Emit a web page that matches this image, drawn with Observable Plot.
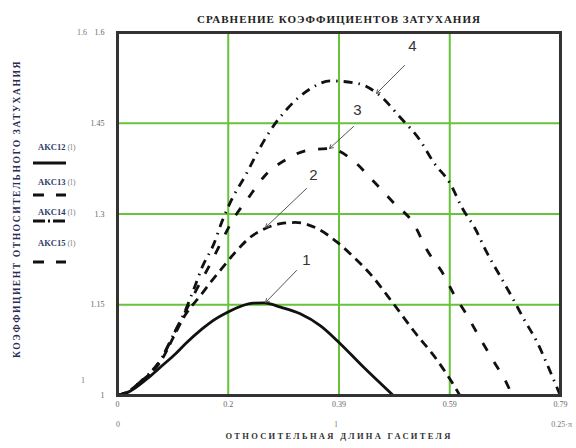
<!DOCTYPE html>
<html>
<head>
<meta charset="utf-8">
<script src="https://cdn.jsdelivr.net/npm/d3@7"></script>
<script src="https://cdn.jsdelivr.net/npm/@observablehq/plot@0.6"></script>
<style>
  html, body { margin: 0; padding: 0; background: #fff; }
  #chart { width: 576px; height: 448px; }
</style>
</head>
<body>
<div id="chart"></div>
<script>
// ---- data ----
const titleText = "СРАВНЕНИЕ КОЭФФИЦИЕНТОВ ЗАТУХАНИЯ";
const xTitle = "ОТНОСИТЕЛЬНАЯ ДЛИНА ГАСИТЕЛЯ";
const yTitle = "КОЭФФИЦИЕНТ ОТНОСИТЕЛЬНОГО ЗАТУХАНИЯ";
const seriesNames = ["AKC12", "AKC13", "AKC14", "AKC15"];
const xTicks = [0, Math.PI / 16, Math.PI / 8, 3 * Math.PI / 16, Math.PI / 4];
const xTickLabels = ["0", "0.2", "0.39", "0.59", "0.79"];
const yTicks = [1, 1.15, 1.3, 1.45, 1.6];
const yTickLabels = ["1", "1.15", "1.3", "1.45", "1.6"];

const c1x = [0, 0.02, 0.0555, 0.08, 0.103, 0.12, 0.15, 0.165, 0.196, 0.22, 0.241, 0.26, 0.289, 0.324, 0.36, 0.389, 0.436, 0.489];
const c1y = [1, 1.006, 1.03, 1.05, 1.069, 1.085, 1.11, 1.121, 1.138, 1.148, 1.1526, 1.153, 1.146, 1.135, 1.115, 1.091, 1.047, 1.0];

const c2x = [0, 0.02, 0.04, 0.079, 0.1, 0.12, 0.147, 0.165, 0.185, 0.209, 0.236, 0.262, 0.289, 0.315, 0.354, 0.39, 0.413, 0.448, 0.489, 0.525, 0.567, 0.602, 0.607];
const c2y = [1, 1.007, 1.022, 1.06, 1.098, 1.133, 1.165, 1.187, 1.21, 1.237, 1.262, 1.276, 1.284, 1.286, 1.276, 1.253, 1.234, 1.201, 1.152, 1.107, 1.058, 1.008, 1.0];

const c3x = [0, 0.02, 0.04, 0.079, 0.1, 0.12, 0.14, 0.162, 0.1825, 0.203, 0.233, 0.262, 0.301, 0.336, 0.377, 0.418, 0.453, 0.489, 0.525, 0.549, 0.578, 0.596, 0.62, 0.643, 0.666, 0.69, 0.70];
const c3y = [1, 1.007, 1.022, 1.063, 1.102, 1.138, 1.175, 1.213, 1.251, 1.288, 1.328, 1.364, 1.391, 1.405, 1.408, 1.388, 1.355, 1.319, 1.284, 1.24, 1.2, 1.168, 1.132, 1.094, 1.058, 1.02, 1.0];

const c4x = [0, 0.02, 0.04, 0.079, 0.1, 0.12, 0.135, 0.15, 0.171, 0.185, 0.203, 0.227, 0.247, 0.271, 0.301, 0.342, 0.377, 0.425, 0.461, 0.501, 0.537, 0.56, 0.59, 0.611, 0.634, 0.655, 0.678, 0.701, 0.72, 0.744, 0.761, 0.785];
const c4y = [1, 1.007, 1.022, 1.063, 1.102, 1.14, 1.175, 1.212, 1.251, 1.287, 1.325, 1.364, 1.4, 1.438, 1.474, 1.507, 1.52, 1.516, 1.499, 1.46, 1.421, 1.386, 1.35, 1.31, 1.276, 1.236, 1.198, 1.16, 1.127, 1.088, 1.053, 1.0];

// curve labels: text position and leader (from label side to curve point)
const labelText = ["1", "2", "3", "4"];
const labelX = [0.3351, 0.3475, 0.4255, 0.523];
const labelY = [1.2231, 1.3636, 1.4711, 1.578];
const leadX1 = [0.3174, 0.3351, 0.4184, 0.5088];
const leadY1 = [1.2066, 1.3421, 1.4446, 1.5455];
const leadX2 = [0.2624, 0.2624, 0.3759, 0.4592];
const leadY2 = [1.1537, 1.2777, 1.4083, 1.4992];

// ---- build ----
const toRows = (xs, ys) => xs.map((x, i) => ({x, y: ys[i]}));
const curves = [toRows(c1x, c1y), toRows(c2x, c2y), toRows(c3x, c3y), toRows(c4x, c4y)];
const dashes = [null, "9,6", "9,13", "9,6,1.5,6"];
const labels = labelText.map((t, i) => ({t, x: labelX[i], y: labelY[i], x1: leadX1[i], y1: leadY1[i], x2: leadX2[i], y2: leadY2[i]}));
const xFmt = new Map(xTicks.map((v, i) => [v, xTickLabels[i]]));
const yFmt = new Map(yTicks.map((v, i) => [v, yTickLabels[i]]));

const green = "#67c23c";
const serif = "Liberation Serif, DejaVu Serif, serif";

const lineMarks = curves.map((rows, i) => Plot.line(rows, {
  x: "x", y: "y", curve: "monotone-x", stroke: "#111", strokeWidth: 2.8,
  strokeDasharray: dashes[i] || undefined, strokeLinecap: "butt", clip: true
}));

const chart = Plot.plot({
  width: 576, height: 448,
  marginLeft: 117, marginRight: 16, marginTop: 32, marginBottom: 53,
  style: {fontFamily: serif, background: "#fff"},
  x: {domain: [0, Math.PI / 4]},
  y: {domain: [1, 1.6]},
  marks: [
    Plot.gridX(xTicks, {stroke: green, strokeOpacity: 1, strokeWidth: 2}),
    Plot.gridY(yTicks, {stroke: green, strokeOpacity: 1, strokeWidth: 2}),
    Plot.axisX(xTicks, {tickSize: 0, tickPadding: 6, tickFormat: d => xFmt.get(d), fontSize: 8, fill: "#666", label: null}),
    Plot.axisY(yTicks, {tickSize: 0, tickPadding: 13, tickFormat: d => yFmt.get(d), fontSize: 8, fill: "#666", label: null}),
    ...lineMarks,
    Plot.arrow(labels, {x1: "x1", y1: "y1", x2: "x2", y2: "y2", stroke: "#555", strokeWidth: 1, headLength: 6, bend: false}),
    Plot.text(labels, {x: "x", y: "y", text: "t", fontSize: 15, fill: "#333", fontFamily: "Liberation Sans, Arial, sans-serif"}),
    Plot.frame({stroke: "#333", strokeWidth: 3}),
    Plot.text([titleText], {frameAnchor: "top", dy: -17, fontSize: 11, fontWeight: "bold", fill: "#222", fontFamily: serif}),
    Plot.text([xTitle], {frameAnchor: "bottom", dy: 43, fontSize: 8.5, fontWeight: "bold", fill: "#333", fontFamily: serif}),
    Plot.text([yTitle], {frameAnchor: "left", textAnchor: "middle", dx: -101, dy: -5, rotate: -90, fontSize: 9.5, fontWeight: "bold", fill: "#2a2a55", fontFamily: serif})
  ]
});

document.getElementById("chart").appendChild(chart);

// letter spacing for titles
d3.select(chart).selectAll("text").each(function() {
  const t = this.textContent;
  if (t === titleText) this.setAttribute("letter-spacing", "1.0");
  if (t === xTitle) this.setAttribute("letter-spacing", "2.3");
  if (t === yTitle) this.setAttribute("letter-spacing", "1.6");
});

// extra Mathcad-style labels and legend (layout only)
const svg = d3.select(chart);
const g = svg.append("g").attr("font-family", serif).attr("font-size", 8).attr("fill", "#777");
g.append("text").attr("x", 82).attr("y", 35).attr("text-anchor", "middle").text("1.6");
g.append("text").attr("x", 83).attr("y", 383).attr("text-anchor", "middle").text("1");
g.append("text").attr("x", 118).attr("y", 427).attr("text-anchor", "middle").text("0");
g.append("text").attr("x", 336).attr("y", 427).attr("text-anchor", "middle").text("l");
g.append("text").attr("x", 572).attr("y", 427).attr("text-anchor", "end").text("0.25·π");

const legY = [147, 182, 212, 243];
const legLineY = [163, 195, 221, 262];
const legDash = [null, "11,12", "12,3,2,3", "11,12"];
seriesNames.forEach((n, i) => {
  const t = g.append("text").attr("x", 38).attr("y", legY[i] + 3).attr("font-size", 8.5).attr("text-anchor", "start");
  t.append("tspan").attr("fill", "#2b3a6a").attr("font-weight", "bold").text(n);
  t.append("tspan").attr("fill", "#8a8a8a").text(" (l)");
  const ln = g.append("line").attr("x1", 33).attr("x2", 66).attr("y1", legLineY[i]).attr("y2", legLineY[i])
    .attr("stroke", "#111").attr("stroke-width", 3);
  if (legDash[i]) ln.attr("stroke-dasharray", legDash[i]);
});
</script>
</body>
</html>
